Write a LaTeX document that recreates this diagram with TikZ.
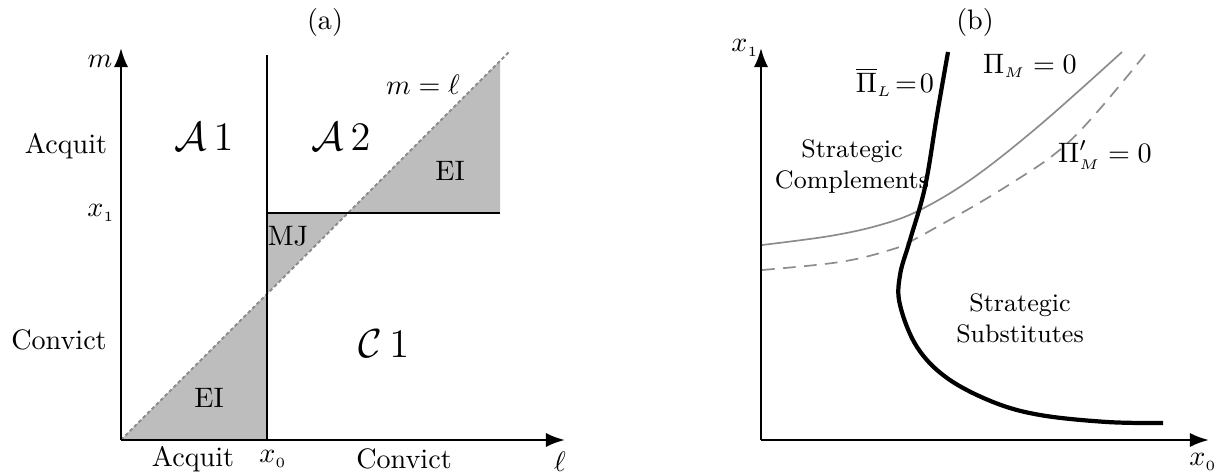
\documentclass[tikz,border=0pt]{standalone}
\usepackage{amsmath,amssymb}
\usetikzlibrary{arrows.meta}
\tikzset{
  axis/.style={line width=0.9pt,-{Latex[length=2.4mm,width=1.8mm]}},
  bound/.style={line width=0.9pt},
  shade/.style={fill=black!26},
  diag/.style={black!45,line width=0.7pt,dash pattern=on 1.3pt off 0.9pt},
  region/.style={font=\Large},
  strat/.style={font=\small,align=center},
}

\begin{document}
\begin{tikzpicture}[x=0.0125cm,y=-0.0125cm]
\useasboundingbox (0,0) rectangle (1227,476);

% panel (a)
\coordinate (oa) at (121,440);
\coordinate (mtop) at (121,48);
\coordinate (lend) at (565,440);
\coordinate (x0bot) at (267,440);
\coordinate (x0top) at (267,55);
\coordinate (x0mid) at (267,294);
\coordinate (x1left) at (267,213);
\coordinate (x1cut) at (348,213);
\coordinate (x1right) at (500,213);
\coordinate (eitop) at (500,61);
\coordinate (dend) at (510,51);

\fill[shade] (oa) -- (x0bot) -- (x0mid) -- cycle;
\fill[shade] (x1left) -- (x1cut) -- (x0mid) -- cycle;
\fill[shade] (x1cut) -- (x1right) -- (eitop) -- cycle;
\draw[diag] (oa) -- (dend);

\draw[bound] (x0bot) -- (x0top);
\draw[bound] (x1left) -- (x1right);
\draw[axis] (oa) -- (mtop);
\draw[axis] (oa) -- (lend);

\node (titlea) at (325,22) {(a)};
\node (m) at (100,61) {$m$};
\node (acqy) at (66,146) {Acquit};
\node (x1) at (101,213) {$x_{\scriptscriptstyle 1}$};
\node (convy) at (59,340) {Convict};
\node (acqx) at (193,459) {Acquit};
\node (x0) at (273,459) {$x_{\scriptscriptstyle 0}$};
\node (convx) at (404,459) {Convict};
\node (ell) at (560,462) {$\ell$};
\node[region] (A1) at (204,137) {$\mathcal{A}\,1$};
\node[region] (A2) at (341,137) {$\mathcal{A}\,2$};
\node[region] (C1) at (384,344) {$\mathcal{C}\,1$};
\node (meql) at (423,85) {$m=\ell$};
\node (EIup) at (450,171) {EI};
\node (MJ) at (288,236) {MJ};
\node (EIlow) at (209,398) {EI};

% panel (b)
\coordinate (ob) at (761,440);
\coordinate (x1top) at (761,48);
\coordinate (x0end) at (1209,440);

\draw[axis] (ob) -- (x1top);
\draw[axis] (ob) -- (x0end);

\draw[black!45,line width=0.6pt] plot[smooth,tension=0.6] coordinates
  {(762,245) (830,236) (880,225) (920,210) (973,178) (1040,125) (1122,52)};
\draw[black!45,line width=0.6pt,dash pattern=on 4.5pt off 3pt] plot[smooth,tension=0.6] coordinates
  {(762,270) (840,262) (890,250) (917,238) (1007,186) (1073,138) (1147,52)};
\draw[line width=1.5pt] plot[smooth,tension=0.6] coordinates
  {(948,52) (937,115) (925,187) (910,240) (900,275) (900,305) (917,347) (947,378) (993,402) (1040,415) (1107,422) (1163,423)};

\node (titleb) at (975,22) {(b)};
\node (x1b) at (745,48) {$x_{\scriptscriptstyle 1}$};
\node (x0b) at (1203,462) {$x_{\scriptscriptstyle 0}$};
\node[inner sep=1pt] (PiL) at (895,82) {$\overline{\Pi}_{\scriptscriptstyle L}\!=\!0$};
\node (PiM) at (1030,66) {$\Pi_{\scriptscriptstyle M}=0$};
\node (PiMp) at (1105,155) {$\Pi'_{\scriptscriptstyle M}=0$};
\node[strat] (comp) at (852,167) {Strategic\\Complements};
\node[strat] (subs) at (1020,318) {Strategic\\Substitutes};
\end{tikzpicture}
\end{document}
